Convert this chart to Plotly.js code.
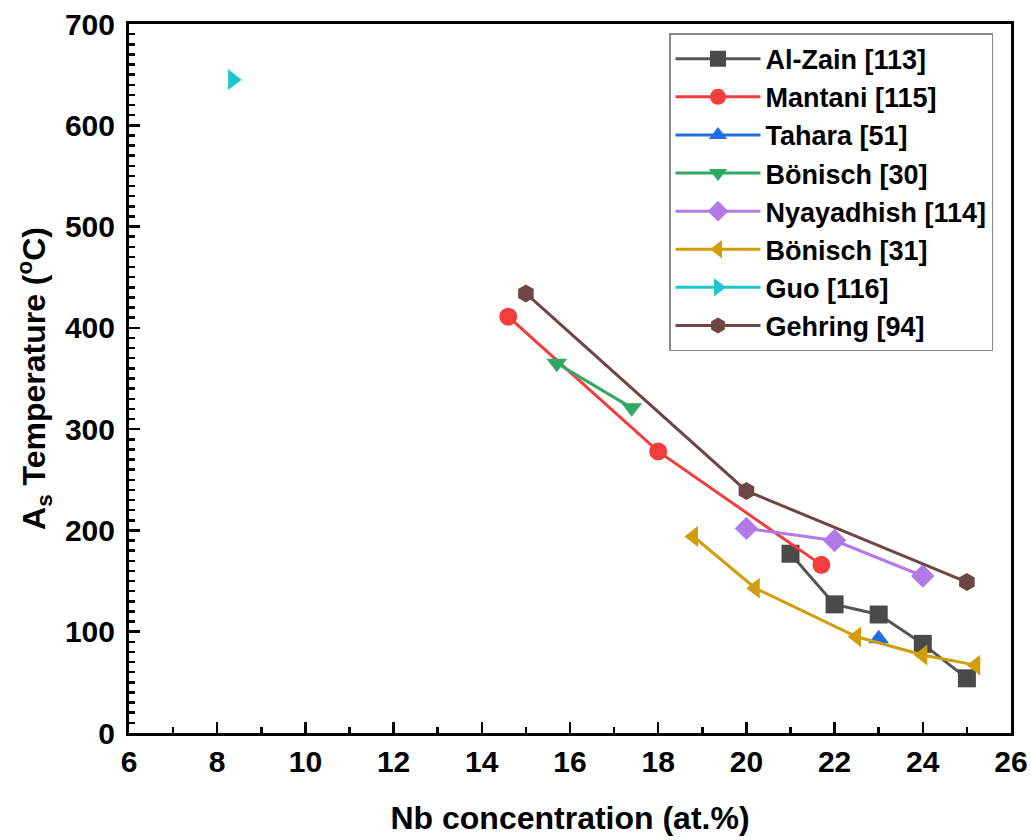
<!DOCTYPE html>
<html>
<head>
<meta charset="utf-8">
<script src="https://cdn.plot.ly/plotly-3.0.1.min.js"></script>
<style>html,body{margin:0;padding:0;background:#fff;}#chart{width:1031px;height:840px;}</style>
</head>
<body>
<div id="chart"></div>
<script>
// Data
const alZainX = [21, 22, 23, 24, 25];
const alZainY = [177, 127, 117, 88, 54];
const mantaniX = [14.6, 18.0, 21.7];
const mantaniY = [411, 278, 166];
const taharaX = [23.0];
const taharaY = [93];
const bonisch30X = [15.7, 17.4];
const bonisch30Y = [365, 321];
const nyayadhishX = [20, 22, 24];
const nyayadhishY = [202, 190, 155];
const bonisch31X = [18.8, 20.2, 22.5, 24.0, 25.2];
const bonisch31Y = [194, 143, 95, 77, 67];
const guoX = [8.35];
const guoY = [645];
const gehringX = [15, 20, 25];
const gehringY = [434, 239, 149];

const seriesNames = ["Al-Zain [113]", "Mantani [115]", "Tahara [51]", "Bönisch [30]",
  "Nyayadhish [114]", "Bönisch [31]", "Guo [116]", "Gehring [94]"];
const xTickVals = [6, 8, 10, 12, 14, 16, 18, 20, 22, 24, 26];

function tr(name, x, y, color, symbol, lineColor) {
  return {
    type: 'scatter', mode: 'lines+markers', name: name, x: x, y: y,
    line: {color: lineColor || color, width: 3},
    marker: {color: color, symbol: symbol, size: 18, line: {width: 0}}
  };
}

const data = [
  tr(seriesNames[0], alZainX, alZainY, '#4a4a4a', 'square', '#555555'),
  tr(seriesNames[1], mantaniX, mantaniY, '#f23d3d', 'circle'),
  tr(seriesNames[2], taharaX, taharaY, '#1f6fe0', 'triangle-up'),
  tr(seriesNames[3], bonisch30X, bonisch30Y, '#2fa863', 'triangle-down'),
  tr(seriesNames[4], nyayadhishX, nyayadhishY, '#b27ae6', 'diamond'),
  tr(seriesNames[5], bonisch31X, bonisch31Y, '#d19d0c', 'triangle-left'),
  tr(seriesNames[6], guoX, guoY, '#1cc6cc', 'triangle-right'),
  tr(seriesNames[7], gehringX, gehringY, '#6e4646', 'hexagon')
];

const fontFam = 'Liberation Sans, Arial, sans-serif';
const layout = {
  width: 1031, height: 840,
  margin: {l: 129, r: 20, t: 24, b: 107},
  paper_bgcolor: '#ffffff', plot_bgcolor: '#ffffff',
  font: {family: fontFam, color: '#000', size: 28, weight: 'bold'},
  showlegend: true,
  legend: {
    x: 0.9796, xanchor: 'right', y: 0.987, yanchor: 'top',
    bordercolor: '#888888', borderwidth: 1.5, bgcolor: '#ffffff',
    font: {family: fontFam, size: 27, color: '#000', weight: 'bold'},
    itemwidth: 85, tracegroupgap: 0
  },
  xaxis: {
    range: [6, 26], tickvals: xTickVals, ticktext: xTickVals.map(String),
    ticks: 'inside', ticklen: 11, tickwidth: 2.5, tickcolor: '#000',
    minor: {dtick: 1, ticks: 'inside', ticklen: 6, tickwidth: 2.5, tickcolor: '#000', showgrid: false},
    showline: true, linecolor: '#000', linewidth: 3, mirror: true,
    showgrid: false, zeroline: false,
    tickfont: {family: fontFam, size: 30, weight: 'bold'},
    title: {text: 'Nb concentration (at.%)', font: {family: fontFam, size: 32, weight: 'bold'}, standoff: 30}
  },
  yaxis: {
    range: [0, 700], dtick: 100, tick0: 0,
    ticks: 'inside', ticklen: 11, tickwidth: 2.5, tickcolor: '#000',
    minor: {dtick: 10, ticks: 'inside', ticklen: 6, tickwidth: 2.5, tickcolor: '#000', showgrid: false},
    showline: true, linecolor: '#000', linewidth: 3, mirror: true,
    showgrid: false, zeroline: false, ticklabelstandoff: 5,
    tickfont: {family: fontFam, size: 30, weight: 'bold'},
    title: {text: 'A<sub>s</sub> Temperature (<sup>o</sup>C)', font: {family: fontFam, size: 32, weight: 'bold'}, standoff: 10}
  }
};

Plotly.newPlot('chart', data, layout, {displayModeBar: false, staticPlot: true});
</script>
</body>
</html>
